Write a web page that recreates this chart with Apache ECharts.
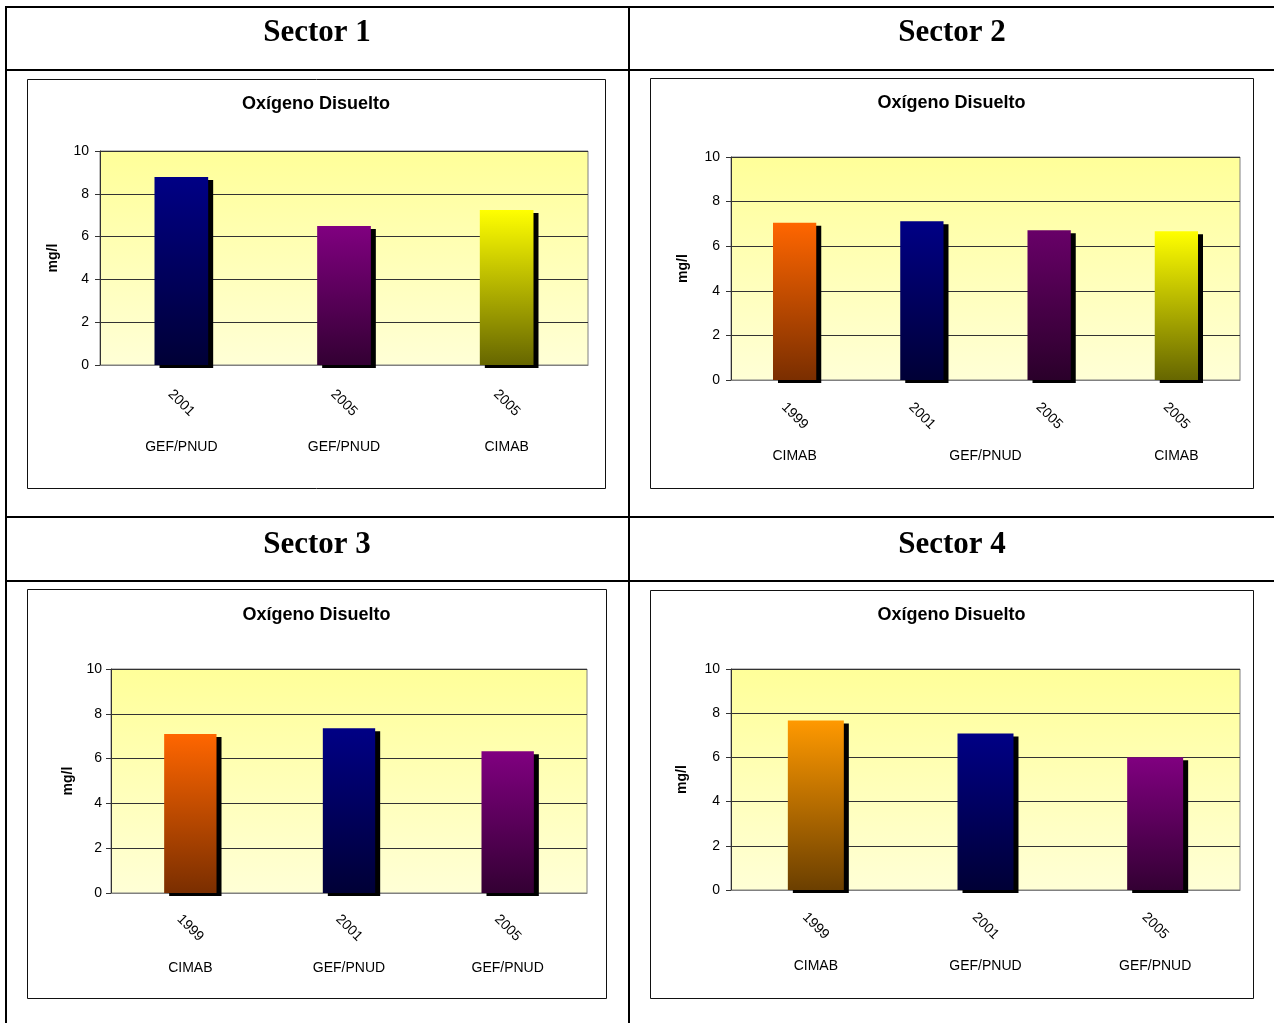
<!DOCTYPE html>
<html>
<head>
<meta charset="utf-8">
<script src="https://cdn.jsdelivr.net/npm/echarts@6/dist/echarts.min.js"></script>
<style>
html,body{margin:0;padding:0;background:#ffffff;}
#c{width:1274px;height:1023px;}
</style>
</head>
<body>
<div id="c"></div>
<script>
// ---------------- DATA ----------------
const chartTitle = 'Oxígeno Disuelto';
const yAxisName = 'mg/l';
const yMin = 0, yMax = 10, yStep = 2;

const sectorNames = ['Sector 1', 'Sector 2', 'Sector 3', 'Sector 4'];

const s1Years = ['2001', '2005', '2005'];
const s1Values = [8.79, 6.49, 7.24];
const s1Groups = ['GEF/PNUD', 'GEF/PNUD', 'CIMAB'];
const s1GroupSpans = [1, 1, 1];
const s1Colors = ['navy', 'purple', 'yellow'];

const s2Years = ['1999', '2001', '2005', '2005'];
const s2Values = [7.05, 7.12, 6.72, 6.67];
const s2Groups = ['CIMAB', 'GEF/PNUD', 'CIMAB'];
const s2GroupSpans = [1, 2, 1];
const s2Colors = ['orange', 'navy', 'purpleDark', 'yellow'];

const s3Years = ['1999', '2001', '2005'];
const s3Values = [7.1, 7.36, 6.33];
const s3Groups = ['CIMAB', 'GEF/PNUD', 'GEF/PNUD'];
const s3GroupSpans = [1, 1, 1];
const s3Colors = ['orange', 'navy', 'purple'];

const s4Years = ['1999', '2001', '2005'];
const s4Values = [7.67, 7.08, 6.01];
const s4Groups = ['CIMAB', 'GEF/PNUD', 'GEF/PNUD'];
const s4GroupSpans = [1, 1, 1];
const s4Colors = ['amber', 'navy', 'purple'];

// ---------------- STYLES / LAYOUT ----------------
const palette = {
  navy: ['#000085', '#000036'],
  purple: ['#800080', '#330033'],
  purpleDark: ['#680068', '#2a002a'],
  yellow: ['#FFFF00', '#666600'],
  orange: ['#FF6600', '#7A2E00'],
  amber: ['#FF9900', '#6B3F00']
};
const sans = 'Liberation Sans, Arial, sans-serif';
const serif = 'Liberation Serif, Times New Roman, serif';

const sectors = [
  { years: s1Years, values: s1Values, groups: s1Groups, spans: s1GroupSpans, colors: s1Colors },
  { years: s2Years, values: s2Values, groups: s2Groups, spans: s2GroupSpans, colors: s2Colors },
  { years: s3Years, values: s3Values, groups: s3Groups, spans: s3GroupSpans, colors: s3Colors },
  { years: s4Years, values: s4Values, groups: s4Groups, spans: s4GroupSpans, colors: s4Colors }
];

const layouts = [
  { headX: 317, headY: 17, frame: [27, 79, 578, 409], grid: { left: 100, top: 151, width: 488, height: 214 }, titleY: 95, nameGap: 40, yMargin: 11, yearMargin: 38, groupMargin: 82, barW: '33%' },
  { headX: 952, headY: 17, frame: [650, 78, 603, 410], grid: { left: 731, top: 157, width: 509, height: 223 }, titleY: 94, nameGap: 41, yMargin: 11, yearMargin: 36, groupMargin: 76, barW: '34%' },
  { headX: 317, headY: 529, frame: [27, 589, 579, 409], grid: { left: 111, top: 669, width: 476, height: 224 }, titleY: 606, nameGap: 36, yMargin: 9, yearMargin: 35, groupMargin: 75, barW: '33%' },
  { headX: 952, headY: 529, frame: [650, 590, 603, 408], grid: { left: 731, top: 669, width: 509, height: 221 }, titleY: 606, nameGap: 42, yMargin: 11, yearMargin: 36, groupMargin: 76, barW: '33%' }
];

function grad(name) {
  const c = palette[name];
  return new echarts.graphic.LinearGradient(0, 0, 0, 1, [
    { offset: 0, color: c[0] }, { offset: 1, color: c[1] }
  ]);
}
const plotBg = new echarts.graphic.LinearGradient(0, 0, 0, 1, [
  { offset: 0, color: '#FFFF99' }, { offset: 1, color: '#FFFFD6' }
]);

const option = {
  animation: false,
  backgroundColor: '#ffffff',
  title: [], grid: [], xAxis: [], yAxis: [], series: [], graphic: []
};

// table lines
const tableRects = [
  [5, 6, 1269, 2], [5, 6, 2, 1017], [628, 6, 2, 1017],
  [5, 69, 1269, 2], [5, 516, 1269, 2], [5, 580, 1269, 2]
];
tableRects.forEach(r => option.graphic.push({
  type: 'rect', z: -10, silent: true,
  shape: { x: r[0], y: r[1], width: r[2], height: r[3] },
  style: { fill: '#000' }
}));

sectors.forEach((s, i) => {
  const L = layouts[i];
  const n = s.years.length;
  // frame
  option.graphic.push({
    type: 'rect', z: -10, silent: true,
    shape: { x: L.frame[0] + 0.5, y: L.frame[1] + 0.5, width: L.frame[2], height: L.frame[3] },
    style: { fill: 'transparent', stroke: '#111', lineWidth: 1 }
  });
  // header & chart title
  option.title.push({
    text: sectorNames[i], left: L.headX, top: L.headY, textAlign: 'center', padding: 0,
    textStyle: { fontFamily: serif, fontSize: 31, fontWeight: 'bold', color: '#000' }
  });
  option.title.push({
    text: chartTitle, left: (L.frame[0] + L.frame[2] / 2), top: L.titleY, textAlign: 'center', padding: 0,
    textStyle: { fontFamily: sans, fontSize: 18, fontWeight: 'bold', color: '#000' }
  });
  option.grid.push(Object.assign({
    show: true, backgroundColor: plotBg, borderColor: '#808080', borderWidth: 1, containLabel: false
  }, L.grid));

  // category axis with years
  option.xAxis.push({
    type: 'category', gridIndex: i, data: s.years, position: 'bottom',
    axisLine: { show: true, lineStyle: { color: '#808080', width: 1 } },
    axisTick: { show: false },
    axisLabel: {
      interval: 0, rotate: -45, align: 'center', verticalAlign: 'middle', margin: L.yearMargin,
      fontFamily: sans, fontSize: 14, color: '#000'
    },
    splitLine: { show: false }
  });
  // group axis (second level labels)
  const centers = [];
  let acc = 0;
  s.spans.forEach(sp => { centers.push(acc + sp / 2); acc += sp; });
  option.xAxis.push({
    type: 'value', gridIndex: i, min: 0, max: n, position: 'bottom',
    axisLine: { show: false }, axisTick: { show: false }, splitLine: { show: false },
    axisLabel: {
      customValues: centers, margin: L.groupMargin, verticalAlign: 'middle', align: 'center',
      fontFamily: sans, fontSize: 14, color: '#000',
      formatter: function (v) {
        for (let k = 0; k < centers.length; k++) {
          if (Math.abs(centers[k] - v) < 1e-6) return s.groups[k];
        }
        return '';
      }
    }
  });
  option.yAxis.push({
    type: 'value', gridIndex: i, min: yMin, max: yMax, interval: yStep,
    name: yAxisName, nameLocation: 'middle', nameGap: L.nameGap, nameRotate: 90,
    nameTextStyle: { fontFamily: sans, fontSize: 14, fontWeight: 'bold', color: '#000' },
    axisLine: { show: true, lineStyle: { color: '#333', width: 1 } },
    axisTick: { show: true, length: 5, lineStyle: { color: '#333' } },
    axisLabel: { margin: L.yMargin, fontFamily: sans, fontSize: 14, color: '#000' },
    splitLine: { show: true, lineStyle: { color: '#333', width: 1 } }
  });
  option.series.push({
    type: 'bar', xAxisIndex: i * 2, yAxisIndex: i, barWidth: L.barW,
    data: s.values.map((v, k) => ({
      value: v,
      itemStyle: {
        color: grad(s.colors[k]), borderWidth: 0,
        shadowColor: '#000', shadowBlur: 0, shadowOffsetX: 5, shadowOffsetY: 3
      }
    }))
  });
});

const chart = echarts.init(document.getElementById('c'), null, { renderer: 'canvas' });
chart.setOption(option);
</script>
</body>
</html>
